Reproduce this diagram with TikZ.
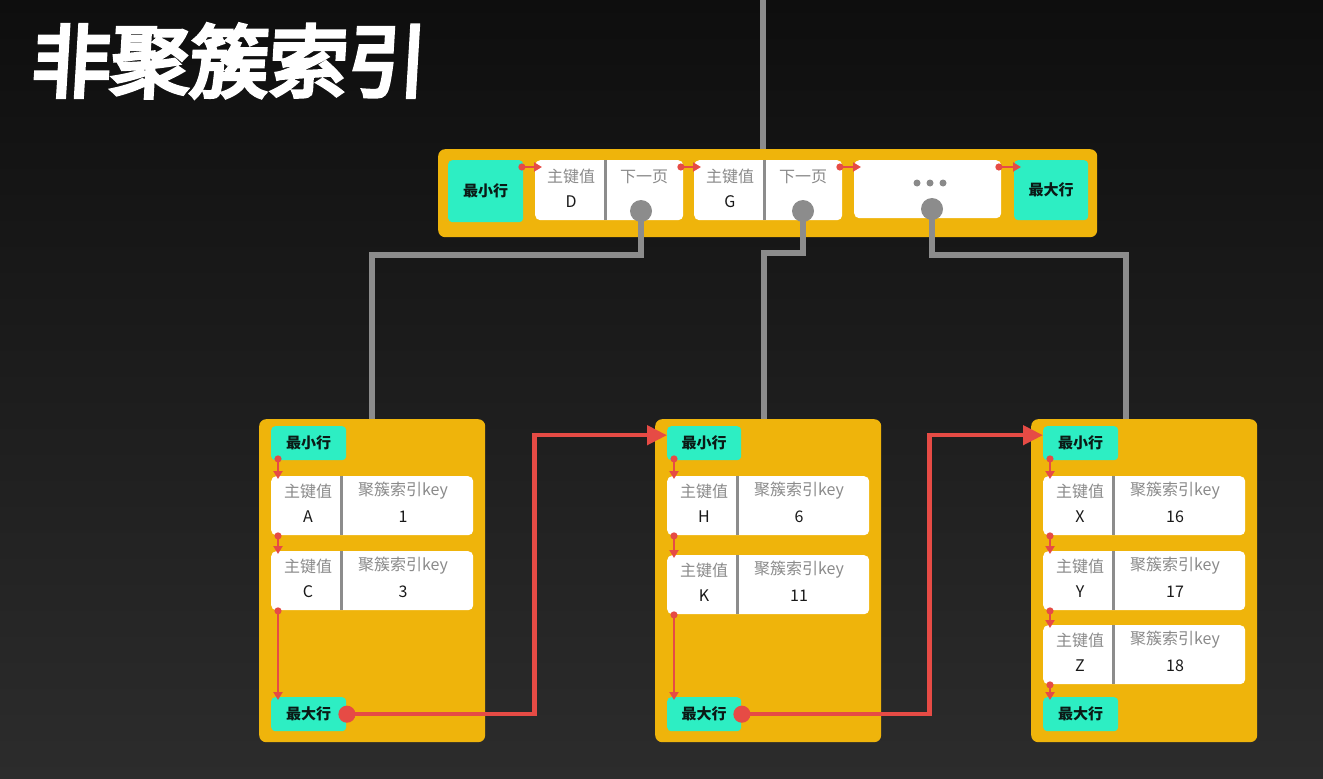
\documentclass[tikz,border=0pt]{standalone}
\usepackage{fontspec}
\setmainfont{Noto Sans CJK SC}
\newfontfamily\titlefont{Noto Sans CJK SC}[FakeBold=5,FakeSlant=0.06]
\usetikzlibrary{arrows.meta,calc}
\definecolor{ob}{HTML}{EFB40B}
\definecolor{tl}{HTML}{2DEEC3}
\definecolor{gl}{HTML}{8C8C8C}
\definecolor{gt}{HTML}{8A8A8A}
\definecolor{rd}{HTML}{E64B45}
\definecolor{bgtop}{HTML}{0E0E0E}
\definecolor{bgbot}{HTML}{2C2C2C}
\definecolor{dk}{HTML}{0B1A16}
\tikzset{
  orangebox/.style={fill=ob,rounded corners=7pt,inner sep=0pt},
  tealbox/.style={fill=tl,rounded corners=4pt,inner sep=0pt,text=dk,font=\fontsize{15}{17}\selectfont\bfseries},
  whitebox/.style={fill=white,rounded corners=5pt,inner sep=0pt},
  divider/.style={draw=gl,line width=3pt},
  graytxt/.style={text=gt,font=\fontsize{16}{18}\selectfont,inner sep=0pt},
  valtxt/.style={text=black!90,font=\fontsize{16}{18}\selectfont,inner sep=0pt},
  greyline/.style={draw=gl,line width=6pt},
  greydot/.style={circle,fill=gl,minimum size=22pt,inner sep=0pt},
  smallred/.style={draw=rd,line width=2pt,{Circle[length=7pt]}-{Triangle[length=8pt,width=9pt]}},
  bigred/.style={draw=rd,line width=4.5pt,{Circle[length=17pt]}-{Triangle[length=20pt,width=19pt]}},
  dotc/.style={circle,fill=gt,minimum size=7pt,inner sep=0pt},
}
% leaf row: name, left x, top y, key, value
\newcommand\leafrow[5]{%
  \node[whitebox,minimum width=202pt,minimum height=59pt,anchor=north west] (#1) at (#2,#3) {};
  \draw[divider] ([xshift=70pt]#1.north west) -- ([xshift=70pt]#1.south west);
  \node[graytxt] (#1-kl) at ([xshift=37pt,yshift=-15pt]#1.north west) {主键值};
  \node[valtxt] (#1-kv) at ([xshift=37pt,yshift=-41pt]#1.north west) {#4};
  \node[graytxt] (#1-vl) at ([xshift=132pt,yshift=-15pt]#1.north west) {聚簇索引key};
  \node[valtxt] (#1-vv) at ([xshift=132pt,yshift=-41pt]#1.north west) {#5};
}
% top cell: name, left x, key
\newcommand\topcell[3]{%
  \node[whitebox,minimum width=148pt,minimum height=60pt,anchor=north west] (#1) at (#2,160) {};
  \draw[divider] ([xshift=70pt]#1.north west) -- ([xshift=70pt]#1.south west);
  \node[graytxt] (#1-kl) at ([xshift=36pt,yshift=-16pt]#1.north west) {主键值};
  \node[valtxt] (#1-kv) at ([xshift=36pt,yshift=-42pt]#1.north west) {#3};
  \node[graytxt] (#1-nl) at ([xshift=109pt,yshift=-17pt]#1.north west) {下一页};
}
\begin{document}
\begin{tikzpicture}[x=1pt,y=-1pt]
\useasboundingbox (0,0) rectangle (1323,779);
\fill[top color=bgtop,bottom color=bgbot] (0,0) rectangle (1323,779);

% title
\node[text=white,font=\titlefont\fontsize{79}{84}\selectfont,inner sep=0pt] (title) at (228,61) {非聚簇索引};

% root line
\coordinate (rootin) at (763,0);

% top page
\node[orangebox,minimum width=659pt,minimum height=88pt,anchor=north west] (top) at (438,149) {};
\draw[greyline] (rootin) -- (rootin |- top.north);
\node[tealbox,minimum width=75pt,minimum height=62pt,anchor=north west] (tmin) at (448,160) {最小行};
\topcell{tc1}{535}{D}
\topcell{tc2}{694}{G}
\node[whitebox,minimum width=147pt,minimum height=58pt,anchor=north west] (tc3) at (854,160) {};
\node[dotc] (dot1) at (917,183) {};
\node[dotc] (dot2) at (930,183) {};
\node[dotc] (dot3) at (943,183) {};
\node[tealbox,minimum width=74pt,minimum height=60pt,anchor=north west] (tmax) at (1014,160) {最大行};

\draw[smallred] ([xshift=-5pt,yshift=-7pt]tmin.north east) -- ([xshift=7pt,yshift=-7pt]tc1.north west);
\draw[smallred] ([xshift=-6pt,yshift=-7pt]tc1.north east) -- ([xshift=7pt,yshift=-7pt]tc2.north west);
\draw[smallred] ([xshift=-6pt,yshift=-7pt]tc2.north east) -- ([xshift=7pt,yshift=-7pt]tc3.north west);
\draw[smallred] ([xshift=-6pt,yshift=-7pt]tc3.north east) -- ([xshift=7pt,yshift=-7pt]tmax.north west);

% leaves
\node[orangebox,minimum width=226pt,minimum height=323pt,anchor=north west] (lleaf) at (259,419) {};
\node[orangebox,minimum width=226pt,minimum height=323pt,anchor=north west] (mleaf) at (655,419) {};
\node[orangebox,minimum width=226pt,minimum height=323pt,anchor=north west] (rleaf) at (1031,419) {};

% grey connectors
\coordinate (d1) at (641,211);
\coordinate (d2) at (803,211);
\coordinate (d3) at (932,209);
\draw[greyline] (d1) -- (641,255) -| (lleaf.north);
\draw[greyline] (d2) -- (803,253) -| ([xshift=-4.5pt]mleaf.north);
\draw[greyline] (d3) -- (932,255) -| ([xshift=-18pt]rleaf.north);
\node[greydot] (g1) at (d1) {};
\node[greydot] (g2) at (d2) {};
\node[greydot] (g3) at (d3) {};

% left leaf
\node[tealbox,minimum width=75pt,minimum height=34pt,anchor=north west] (lmin) at (271,426) {最小行};
\leafrow{lr1}{271}{476}{A}{1}
\leafrow{lr2}{271}{551}{C}{3}
\node[tealbox,minimum width=75pt,minimum height=34pt,anchor=north west] (lmax) at (271,697) {最大行};
\draw[smallred] ([xshift=7pt,yshift=5pt]lmin.south west) -- ([xshift=7pt,yshift=-3pt]lr1.north west);
\draw[smallred] ([xshift=7pt,yshift=3pt]lr1.south west) -- ([xshift=7pt,yshift=-3pt]lr2.north west);
\draw[smallred] ([xshift=7pt,yshift=3pt]lr2.south west) -- ([xshift=7pt,yshift=-3pt]lmax.north west);

% middle leaf
\node[tealbox,minimum width=74pt,minimum height=34pt,anchor=north west] (mmin) at (667,426) {最小行};
\leafrow{mr1}{667}{476}{H}{6}
\leafrow{mr2}{667}{555}{K}{11}
\node[tealbox,minimum width=74pt,minimum height=34pt,anchor=north west] (mmax) at (667,697) {最大行};
\draw[smallred] ([xshift=7pt,yshift=5pt]mmin.south west) -- ([xshift=7pt,yshift=-3pt]mr1.north west);
\draw[smallred] ([xshift=7pt,yshift=3pt]mr1.south west) -- ([xshift=7pt,yshift=-3pt]mr2.north west);
\draw[smallred] ([xshift=7pt,yshift=3pt]mr2.south west) -- ([xshift=7pt,yshift=-3pt]mmax.north west);

% right leaf
\node[tealbox,minimum width=75pt,minimum height=34pt,anchor=north west] (rmin) at (1043,426) {最小行};
\leafrow{rr1}{1043}{476}{X}{16}
\leafrow{rr2}{1043}{551}{Y}{17}
\leafrow{rr3}{1043}{625}{Z}{18}
\node[tealbox,minimum width=75pt,minimum height=34pt,anchor=north west] (rmax) at (1043,697) {最大行};
\draw[smallred] ([xshift=7pt,yshift=5pt]rmin.south west) -- ([xshift=7pt,yshift=-3pt]rr1.north west);
\draw[smallred] ([xshift=7pt,yshift=3pt]rr1.south west) -- ([xshift=7pt,yshift=-3pt]rr2.north west);
\draw[smallred] ([xshift=7pt,yshift=3pt]rr2.south west) -- ([xshift=7pt,yshift=-3pt]rr3.north west);
\draw[smallred] ([xshift=7pt,yshift=3pt]rr3.south west) -- ([xshift=7pt,yshift=-3pt]rmax.north west);

% big red connectors between leaves
\draw[bigred] ([xshift=-8pt]lmax.east) -- ++(196,0) |- ([yshift=8pt]mmin.west);
\draw[bigred] ([xshift=-8pt]mmax.east) -- ++(196,0) |- ([yshift=8pt]rmin.west);
\end{tikzpicture}
\end{document}
